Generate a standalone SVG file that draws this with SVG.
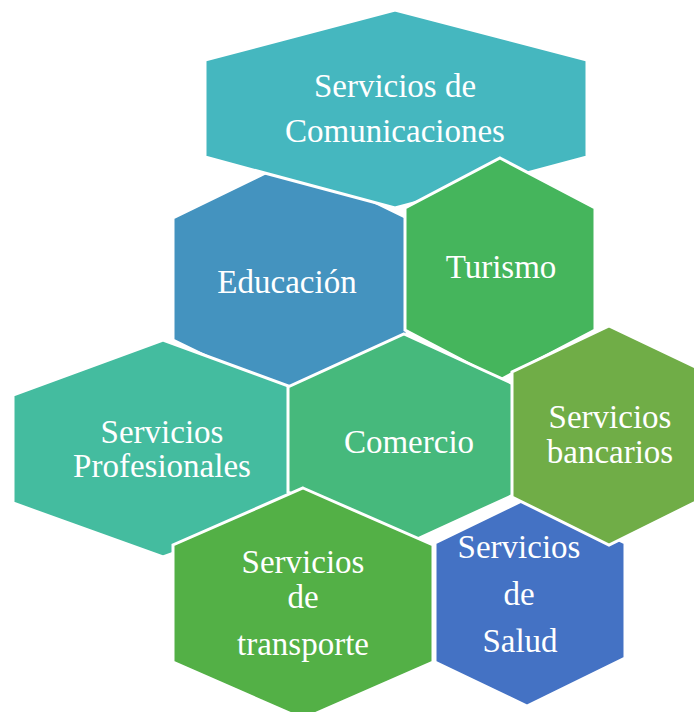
<svg xmlns="http://www.w3.org/2000/svg" width="694" height="712" viewBox="0 0 694 712">
<style>
.hex{stroke:#ffffff;stroke-width:3;stroke-linejoin:miter}
.t{font-family:"Liberation Serif","Times New Roman",serif;font-size:33px;fill:#ffffff;text-anchor:middle}
</style>
<rect width="694" height="712" fill="#ffffff"/>
<g id="connectors"/>
<g id="educacion">
<polygon class="hex" fill="#4493BF" points="290,161 407,218 407,340 290,397 173,340 173,218"/>
<text class="t" x="287" y="293">Educación</text>
</g>
<g id="comunicaciones">
<polygon class="hex" fill="#45B7BF" points="395,10 587,60 587,157 395,208 205,157 205,60"/>
<text class="t" x="395" y="97">Servicios de</text>
<text class="t" x="395" y="142">Comunicaciones</text>
</g>
<g id="turismo">
<polygon class="hex" fill="#45B55C" points="500,158 595,208 595,330 500,380 405,330 405,208"/>
<text class="t" x="501" y="278">Turismo</text>
</g>
<g id="profesionales">
<polygon class="hex" fill="#44BC9F" points="163,340 313,395 313,503 163,557 13,503 13,395"/>
<text class="t" x="162" y="443">Servicios</text>
<text class="t" x="162" y="477">Profesionales</text>
</g>
<g id="comercio">
<polygon class="hex" fill="#46B97C" points="404,334 520,387 520,492 404,545 288,492 288,387"/>
<text class="t" x="409" y="453">Comercio</text>
</g>
<g id="transporte">
<polygon class="hex" fill="#53B046" points="303,488 433,545 433,662 303,719 173,662 173,545"/>
<text class="t" x="303" y="573">Servicios</text>
<text class="t" x="303" y="608">de</text>
<text class="t" x="303" y="655">transporte</text>
</g>
<g id="salud">
<polygon class="hex" fill="#4472C4" points="530,497 625,543 625,658 527,706 435,662 435,543"/>
<text class="t" x="519" y="558">Servicios</text>
<text class="t" x="519" y="605">de</text>
<text class="t" x="520" y="652">Salud</text>
</g>
<g id="bancarios">
<polygon class="hex" fill="#70AD47" points="609,326 706,372 706,497 609,545 512,497 512,372"/>
<text class="t" x="610" y="428">Servicios</text>
<text class="t" x="610" y="463">bancarios</text>
</g>
</svg>
